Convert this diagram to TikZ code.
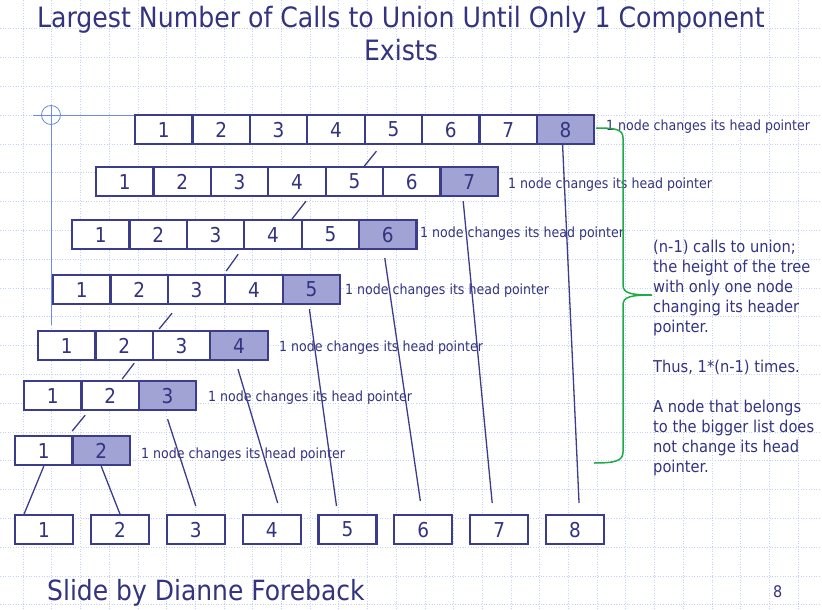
\documentclass[tikz,border=0pt]{standalone}
\usepackage{fontspec}
\setmainfont{DejaVu Sans Condensed}
\usetikzlibrary{calc}
\definecolor{ink}{RGB}{51,51,128}
\definecolor{boxline}{RGB}{60,60,140}
\definecolor{hl}{RGB}{160,163,212}
\definecolor{gridc}{RGB}{196,210,245}
\definecolor{guide}{RGB}{110,140,230}
\definecolor{bracec}{RGB}{30,170,70}
\begin{document}
\begin{tikzpicture}[x=1pt,y=-1pt,
  cell/.style={draw=boxline, fill=white, line width=2.2pt, minimum width=57.4pt, minimum height=29pt, inner sep=0pt, font=\fontsize{20.5}{20.5}\selectfont, text=ink, anchor=north west},
  hcell/.style={cell, fill=hl},
  single/.style={cell, minimum width=58pt},
  lbl/.style={font=\fontsize{14}{14}\selectfont, text=ink, anchor=base west, inner sep=0pt},
  note/.style={font=\fontsize{16.3}{16.3}\selectfont, text=ink, anchor=base west, inner sep=0pt},
  link/.style={draw=boxline, line width=1.3pt},
  gridline/.style={draw=gridc, line width=0.6pt, dotted}]
\useasboundingbox (0,0) rectangle (822,610);
\fill[white] (0,0) rectangle (822,610);
% background grid
\foreach \i in {0,...,29} \draw[gridline] ({-5.7+28.7*\i},0) -- ({-5.7+28.7*\i},610);
\foreach \j in {0,...,21} \draw[gridline] (0,{-0.2+28.8*\j}) -- (822,{-0.2+28.8*\j});
% guide cross
\draw[guide, line width=0.8pt] (51,105) -- (51,325);
\draw[guide, line width=0.8pt] (33,115) -- (202,115);
\draw[guide, line width=0.8pt] (51,115) circle (9.5pt);
% title
\node[font=\fontsize{28}{28}\selectfont, text=ink, anchor=base, inner sep=0pt] (title1) at (401,28) {Largest Number of Calls to Union Until Only 1 Component};
\node[font=\fontsize{28}{28}\selectfont, text=ink, anchor=base, inner sep=0pt] (title2) at (401,61) {Exists};
% rows of cells
\foreach \r/\L/\T in {8/134/114, 7/95/166, 6/71/219, 5/52/274, 4/37/330, 3/23/380, 2/14/435}{
  \foreach \i in {1,...,\r}{
    \ifnum\i=\r
      \node[hcell] (c\r-\i) at ({\L+(\i-1)*57.4},\T) {\i};
    \else
      \node[cell] (c\r-\i) at ({\L+(\i-1)*57.4},\T) {\i};
    \fi
  }
}
% single boxes
\foreach \i in {1,...,8}{
  \node[single] (b\i) at ({14+75.85*(\i-1)},514) {\i};
}
% labels
\node[lbl] (l8) at (606,130) {1 node changes its head pointer};
\node[lbl] (l7) at (508,188) {1 node changes its head pointer};
\node[lbl] (l6) at (420,237) {1 node changes its head pointer};
\node[lbl] (l5) at (345,294) {1 node changes its head pointer};
\node[lbl] (l4) at (279,351) {1 node changes its head pointer};
\node[lbl] (l3) at (208,401) {1 node changes its head pointer};
\node[lbl] (l2) at (141,458) {1 node changes its head pointer};
% short links between rows
\draw[link] ([xshift=-17pt,yshift=-6pt]c8-5.south) -- ([xshift=10pt]c7-5.north);
\draw[link] ([xshift=9pt,yshift=-4pt]c7-4.south) -- ([xshift=19pt]c6-4.north);
\draw[link] ([xshift=-5pt,yshift=-4pt]c6-4.south west) -- ([xshift=2pt,yshift=3pt]c5-4.north west);
\draw[link] ([xshift=-24.5pt,yshift=-8pt]c5-3.south) -- ([xshift=-22.5pt,yshift=1pt]c4-3.north);
\draw[link] ([xshift=10pt,yshift=-2pt]c4-2.south) -- ([xshift=12pt,yshift=1pt]c3-2.north);
\draw[link] ([xshift=2.6pt,yshift=-4pt]c3-1.south east) -- ([xshift=-1.4pt,yshift=4pt]c2-1.north east);
% long links to single boxes
\draw[link] (c2-1.south) -- ([xshift=-20pt]b1.north);
\draw[link] (c2-2.south) -- (b2.north);
\draw[link] ([yshift=-8pt]c3-3.south) -- ([yshift=8pt]b3.north);
\draw[link] ([xshift=-1pt,yshift=-8pt]c4-4.south) -- ([xshift=6pt,yshift=11pt]b4.north);
\draw[link] ([xshift=-2pt,yshift=-4pt]c5-5.south) -- ([xshift=-11pt,yshift=8pt]b5.north);
\draw[link] ([xshift=-3pt,yshift=-8pt]c6-6.south) -- ([xshift=-3pt,yshift=13pt]b6.north);
\draw[link] ([xshift=-6pt,yshift=-4pt]c7-7.south) -- ([xshift=-7pt,yshift=11pt]b7.north);
\draw[link] ([xshift=-3pt]c8-8.south) -- ([xshift=4pt,yshift=11pt]b8.north);
% brace
\draw[bracec, line width=1.5pt] (596,128) .. controls (615,128) and (623,129) .. (623,138) -- (623,285) .. controls (623,293) and (630,295) .. (652,295) .. controls (630,295) and (623,297) .. (623,305) -- (623,452) .. controls (623,461) and (615,463) .. (594,463);
% notes
\node[note] (n1) at (653,252.5) {(n-1) calls to union;};
\node[note] (n2) at (653,272.5) {the height of the tree};
\node[note] (n3) at (653,292.5) {with only one node};
\node[note] (n4) at (653,312.5) {changing its header};
\node[note] (n5) at (653,332.5) {pointer.};
\node[note] (n6) at (653,372.5) {Thus, 1*(n-1) times.};
\node[note] (n7) at (653,412.5) {A node that belongs};
\node[note] (n8) at (653,432.5) {to the bigger list does};
\node[note] (n9) at (653,452.5) {not change its head};
\node[note] (n10) at (653,472.5) {pointer.};
% footer
\node[font=\fontsize{27.8}{27.8}\selectfont, text=ink, anchor=base west, inner sep=0pt] (foot) at (47,600) {Slide by Dianne Foreback};
\node[font=\fontsize{16}{16}\selectfont, text=ink, anchor=base west, inner sep=0pt] (pnum) at (773,597) {8};
\end{tikzpicture}
\end{document}
